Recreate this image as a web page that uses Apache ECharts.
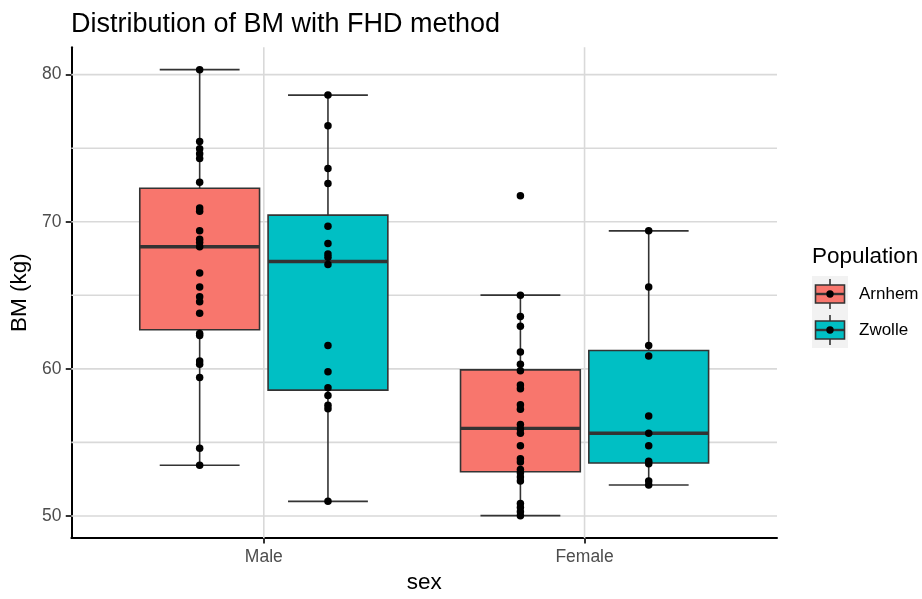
<!DOCTYPE html>
<html>
<head>
<meta charset="utf-8">
<script src="https://cdn.jsdelivr.net/npm/echarts@6/dist/echarts.min.js"></script>
<style>html,body{margin:0;padding:0;background:#fff;overflow:hidden}#c{width:922px;height:599px}</style>
</head>
<body>
<div id="c"></div>
<script>
// ---- data ----
const sexes = ['Male', 'Female'];
const populations = ['Arnhem', 'Zwolle'];
const popColors = ['#F8766D', '#00BFC4'];

// box stats per sex: [lowerWhisker, Q1, median, Q3, upperWhisker]
const arnhemBox = [
  [53.45, 62.66, 68.30, 72.28, 80.34],
  [50.02, 53.00, 55.95, 59.93, 65.01]
];
const zwolleBox = [
  [50.99, 58.55, 67.30, 70.45, 78.61],
  [52.10, 53.60, 55.62, 61.25, 69.38]
];

// observations
const arnhemMale = [80.34, 75.46, 74.97, 74.63, 74.3, 72.68, 70.94, 70.72, 69.38, 68.81, 68.59, 68.30, 66.51, 65.57, 64.9, 64.56, 63.78, 62.4, 62.26, 60.54, 60.32, 59.42, 54.61, 53.45];
const zwolleMale = [78.61, 76.53, 73.62, 72.6, 69.69, 68.52, 67.8, 67.58, 67.1, 61.59, 59.8, 58.72, 58.19, 57.52, 57.29, 50.99];
const arnhemFemale = [71.77, 65.01, 63.56, 62.89, 61.14, 60.32, 59.87, 58.9, 58.64, 57.56, 57.25, 56.22, 55.91, 55.62, 54.77, 53.89, 53.67, 53.15, 52.93, 52.64, 52.37, 50.85, 50.58, 50.29, 50.02];
const zwolleFemale = [69.38, 65.57, 61.59, 60.87, 56.8, 55.62, 54.77, 53.71, 53.54, 52.37, 52.1];

const yTickLabels = [50, 60, 70, 80];
const yGridValues = [50, 55, 60, 65, 70, 75, 80];

// ---- layout constants ----
const X_RANGE = [0.4, 2.6];
const Y_RANGE = [48.5, 81.86];
const DODGE = 0.2;
const BOX_HALF = 0.1867;
const CAP_HALF = 0.1245;
const GRID_COLOR = '#d9d9d9';
const LINE_COLOR = '#333333';
const FONT = 'Liberation Sans, Arial, sans-serif';

const popBoxes = [arnhemBox, zwolleBox];
const popPoints = [[arnhemMale, arnhemFemale], [zwolleMale, zwolleFemale]];

function xPos(sexIdx, popIdx) {
  return (sexIdx + 1) + (popIdx === 0 ? -DODGE : DODGE);
}

function renderBox(params, api) {
  const x = api.value(0);
  const lo = api.value(1), q1 = api.value(2), med = api.value(3), q3 = api.value(4), hi = api.value(5);
  const c = api.coord([x, med]);
  const left = api.coord([x - BOX_HALF, med])[0];
  const right = api.coord([x + BOX_HALF, med])[0];
  const capL = api.coord([x - CAP_HALF, med])[0];
  const capR = api.coord([x + CAP_HALF, med])[0];
  const yLo = api.coord([x, lo])[1], yQ1 = api.coord([x, q1])[1], yQ3 = api.coord([x, q3])[1], yHi = api.coord([x, hi])[1];
  const fill = api.visual('color');
  const ls = { stroke: LINE_COLOR, lineWidth: 1.6 };
  return {
    type: 'group',
    children: [
      { type: 'line', shape: { x1: c[0], y1: yHi, x2: c[0], y2: yQ3 }, style: ls },
      { type: 'line', shape: { x1: c[0], y1: yQ1, x2: c[0], y2: yLo }, style: ls },
      { type: 'line', shape: { x1: capL, y1: yHi, x2: capR, y2: yHi }, style: ls },
      { type: 'line', shape: { x1: capL, y1: yLo, x2: capR, y2: yLo }, style: ls },
      { type: 'rect', shape: { x: left, y: yQ3, width: right - left, height: yQ1 - yQ3 }, style: { fill: fill, stroke: LINE_COLOR, lineWidth: 1.6 } },
      { type: 'line', shape: { x1: left, y1: c[1], x2: right, y2: c[1] }, style: { stroke: LINE_COLOR, lineWidth: 3.4 } }
    ]
  };
}

const series = [];
series.push({
  type: 'custom', z: 1, silent: true, animation: false,
  data: yGridValues.map(v => [X_RANGE[0], v]),
  encode: { x: 0, y: 1 },
  renderItem: (p, api) => {
    const a = api.coord([X_RANGE[0], api.value(1)]);
    const b = api.coord([X_RANGE[1], api.value(1)]);
    return { type: 'line', shape: { x1: a[0], y1: a[1], x2: b[0], y2: b[1] }, style: { stroke: GRID_COLOR, lineWidth: 1.6 } };
  }
});
series.push({
  type: 'custom', z: 1, silent: true, animation: false,
  data: sexes.map((s, i) => [i + 1, Y_RANGE[0]]),
  encode: { x: 0, y: 1 },
  renderItem: (p, api) => {
    const a = api.coord([api.value(0), Y_RANGE[0]]);
    const b = api.coord([api.value(0), Y_RANGE[1]]);
    return { type: 'line', shape: { x1: a[0], y1: a[1], x2: b[0], y2: b[1] }, style: { stroke: GRID_COLOR, lineWidth: 1.6 } };
  }
});
populations.forEach((pop, pi) => {
  series.push({
    name: pop, type: 'custom', z: 3, animation: false,
    itemStyle: { color: popColors[pi] },
    data: sexes.map((s, si) => [xPos(si, pi)].concat(popBoxes[pi][si])),
    encode: { x: 0, y: [1, 2, 3, 4, 5] },
    renderItem: renderBox
  });
});
populations.forEach((pop, pi) => {
  const pts = [];
  sexes.forEach((s, si) => popPoints[pi][si].forEach(v => pts.push([xPos(si, pi), v])));
  series.push({
    type: 'scatter', z: 4, animation: false, symbolSize: 7.5,
    itemStyle: { color: '#000', opacity: 1 }, data: pts
  });
});

const legendGraphics = [
  { type: 'text', left: 812, top: 245, style: { text: 'Population', font: '22.5px ' + FONT, fill: '#000' } }
];
populations.forEach((pop, i) => {
  const top = 276 + i * 36;
  const cx = 830, cy = top + 18;
  legendGraphics.push(
    { type: 'rect', shape: { x: 812, y: top, width: 36, height: 36 }, style: { fill: '#f2f2f2' } },
    { type: 'line', shape: { x1: cx, y1: top + 3, x2: cx, y2: top + 33 }, style: { stroke: LINE_COLOR, lineWidth: 1.6 } },
    { type: 'rect', shape: { x: 815.5, y: cy - 9, width: 29, height: 18 }, style: { fill: popColors[i], stroke: LINE_COLOR, lineWidth: 1.6 } },
    { type: 'line', shape: { x1: 815.5, y1: cy, x2: 844.5, y2: cy }, style: { stroke: LINE_COLOR, lineWidth: 2.4 } },
    { type: 'circle', shape: { cx: cx, cy: cy, r: 3.7 }, style: { fill: '#000' } },
    { type: 'text', x: 859, y: cy, style: { text: pop, font: '17px ' + FONT, fill: '#000', textVerticalAlign: 'middle' } }
  );
});

const chart = echarts.init(document.getElementById('c'), null, { renderer: 'canvas', width: 922, height: 599 });
chart.setOption({
  animation: false,
  backgroundColor: '#fff',
  textStyle: { fontFamily: FONT },
  title: {
    text: 'Distribution of BM with FHD method', left: 66, top: 6,
    textStyle: { fontSize: 27, fontWeight: 'normal', color: '#000', fontFamily: FONT }
  },
  grid: { left: 70, right: 145, top: 47.3, bottom: 55.5, containLabel: false },
  xAxis: {
    type: 'value', min: X_RANGE[0], max: X_RANGE[1],
    name: 'sex', nameLocation: 'middle', nameGap: 33,
    nameTextStyle: { fontSize: 22.5, color: '#000', fontFamily: FONT },
    axisLine: { show: true, onZero: false, lineStyle: { color: '#000', width: 2 } },
    axisTick: { show: true, customValues: [1, 2], length: 5.6, lineStyle: { color: LINE_COLOR, width: 2 } },
    axisLabel: { customValues: [1, 2], formatter: v => sexes[Math.round(v) - 1] || '', fontSize: 17.5, color: '#4d4d4d', margin: 10, fontFamily: FONT },
    splitLine: { show: false }
  },
  yAxis: {
    type: 'value', min: Y_RANGE[0], max: Y_RANGE[1],
    name: 'BM (kg)', nameLocation: 'middle', nameGap: 34, nameRotate: 90,
    nameTextStyle: { fontSize: 22.5, color: '#000', fontFamily: FONT },
    axisLine: { show: true, onZero: false, lineStyle: { color: '#000', width: 2 } },
    axisTick: { show: true, customValues: yTickLabels, length: 5.6, lineStyle: { color: LINE_COLOR, width: 2 } },
    axisLabel: { customValues: yTickLabels, fontSize: 17.5, color: '#4d4d4d', margin: 10, fontFamily: FONT },
    splitLine: { show: false }
  },
  graphic: legendGraphics,
  series: series
});
</script>
</body>
</html>
